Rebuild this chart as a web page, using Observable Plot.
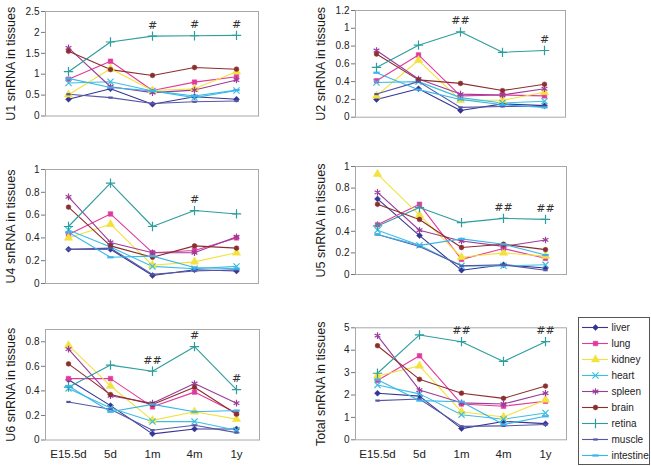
<!DOCTYPE html>
<html><head><meta charset="utf-8">
<script src="https://cdn.jsdelivr.net/npm/d3@7"></script>
<script src="https://cdn.jsdelivr.net/npm/@observablehq/plot@0.6"></script>
<style>
body{margin:0;background:#fff;}
#wrap{position:relative;width:651px;height:466px;overflow:hidden;background:#fff;font-family:"Liberation Sans",Arial,sans-serif;}
.panel{position:absolute;}
#legend{position:absolute;left:578px;top:317px;width:72px;height:148px;border:1px solid #555;box-sizing:border-box;background:#fff;}
</style></head><body><div id="wrap"></div>
<script>
const categories = ["E15.5d", "5d", "1m", "4m", "1y"];
const tissues = ["liver", "lung", "kidney", "heart", "spleen", "brain", "retina", "muscle", "intestine"];

// rows follow the order of `tissues`, columns follow `categories`
const U1 = [
  [0.40, 0.65, 0.28, 0.46, 0.40],
  [0.88, 1.31, 0.61, 0.81, 0.94],
  [0.51, 1.13, 0.61, 0.65, 1.06],
  [0.79, 0.82, 0.60, 0.44, 0.61],
  [1.63, 0.70, 0.56, 0.62, 0.86],
  [1.55, 1.11, 0.97, 1.16, 1.12],
  [1.06, 1.77, 1.91, 1.92, 1.93],
  [0.52, 0.44, 0.30, 0.34, 0.36],
  [0.90, 0.68, 0.60, 0.48, 0.62]
];
const U2 = [
  [0.20, 0.32, 0.075, 0.15, 0.13],
  [0.41, 0.70, 0.24, 0.25, 0.24],
  [0.24, 0.64, 0.19, 0.19, 0.28],
  [0.39, 0.40, 0.22, 0.16, 0.18],
  [0.75, 0.43, 0.26, 0.25, 0.32],
  [0.71, 0.42, 0.38, 0.30, 0.37],
  [0.56, 0.81, 0.96, 0.73, 0.75],
  [0.26, 0.40, 0.11, 0.12, 0.12],
  [0.50, 0.31, 0.20, 0.14, 0.11]
];
const U4 = [
  [0.30, 0.30, 0.07, 0.12, 0.11],
  [0.43, 0.61, 0.27, 0.29, 0.40],
  [0.40, 0.52, 0.16, 0.19, 0.27],
  [0.47, 0.32, 0.15, 0.13, 0.15],
  [0.76, 0.36, 0.27, 0.27, 0.41],
  [0.67, 0.33, 0.23, 0.33, 0.31],
  [0.50, 0.88, 0.50, 0.64, 0.61],
  [0.30, 0.31, 0.08, 0.11, 0.12],
  [0.45, 0.23, 0.24, 0.14, 0.13]
];
const U5 = [
  [0.70, 0.36, 0.04, 0.09, 0.06],
  [0.46, 0.65, 0.14, 0.24, 0.15],
  [0.93, 0.55, 0.16, 0.20, 0.17],
  [0.41, 0.27, 0.08, 0.08, 0.09],
  [0.76, 0.41, 0.31, 0.26, 0.32],
  [0.65, 0.51, 0.25, 0.28, 0.23],
  [0.45, 0.62, 0.48, 0.52, 0.51],
  [0.37, 0.26, 0.08, 0.09, 0.04],
  [0.37, 0.27, 0.33, 0.28, 0.18]
];
const U6 = [
  [0.49, 0.28, 0.05, 0.09, 0.09],
  [0.50, 0.50, 0.27, 0.39, 0.22],
  [0.77, 0.44, 0.16, 0.23, 0.17],
  [0.42, 0.26, 0.15, 0.15, 0.08],
  [0.74, 0.36, 0.30, 0.46, 0.30],
  [0.62, 0.37, 0.29, 0.43, 0.21],
  [0.43, 0.61, 0.56, 0.76, 0.41],
  [0.31, 0.25, 0.08, 0.12, 0.06],
  [0.44, 0.23, 0.29, 0.23, 0.24]
];
const Total = [
  [2.08, 1.95, 0.50, 0.82, 0.72],
  [2.65, 3.75, 1.60, 1.50, 1.72],
  [2.85, 3.30, 1.25, 1.02, 1.78],
  [2.45, 2.05, 1.12, 0.92, 1.20],
  [4.65, 2.22, 1.65, 1.60, 2.08],
  [4.20, 2.70, 2.08, 1.85, 2.40],
  [2.97, 4.68, 4.38, 3.50, 4.38],
  [1.75, 1.82, 0.60, 0.62, 0.68],
  [2.68, 1.75, 1.70, 0.68, 1.05]
];

// significance marks above the retina series
const U1notes = [["1m", "#"], ["4m", "#"], ["1y", "#"]];
const U2notes = [["1m", "##"], ["1y", "#"]];
const U4notes = [["4m", "#"]];
const U5notes = [["4m", "##"], ["1y", "##"]];
const U6notes = [["1m", "##"], ["4m", "#"], ["1y", "#"]];
const TotalNotes = [["1m", "##"], ["1y", "##"]];

const U1ticks = [0, 0.5, 1, 1.5, 2, 2.5];
const U2ticks = [0, 0.2, 0.4, 0.6, 0.8, 1, 1.2];
const U4ticks = [0, 0.2, 0.4, 0.6, 0.8, 1];
const U5ticks = [0, 0.2, 0.4, 0.6, 0.8, 1];
const U6ticks = [0, 0.2, 0.4, 0.6, 0.8];
const TotalTicks = [0, 1, 2, 3, 4, 5];

const dash = (half) => ({draw(ctx) { ctx.moveTo(-half, 0); ctx.lineTo(half, 0); }});
const styles = {
  liver:     {color: "#353595", symbol: "diamond2", r: 2.7, filled: true, sw: 0.5},
  lung:      {color: "#e2399d", symbol: "square", r: 2.6, filled: true, sw: 0.5},
  kidney:    {color: "#f3e23e", symbol: "triangle", r: 3.1, filled: true, sw: 0.5},
  heart:     {color: "#3bbfe2", symbol: "times", r: 2.9, filled: false, sw: 1.2},
  spleen:    {color: "#9a3c9a", symbol: "asterisk", r: 3.1, filled: false, sw: 1.2},
  brain:     {color: "#8c2e2e", symbol: "circle", r: 2.4, filled: true, sw: 0.5},
  retina:    {color: "#2d9d9d", symbol: "plus", r: 3.1, filled: false, sw: 1.2},
  muscle:    {color: "#5656a6", symbol: dash(2.2), r: 3, filled: false, sw: 2.2},
  intestine: {color: "#3ab6ea", symbol: dash(3.2), r: 3, filled: false, sw: 2.2}
};

const panels = [
  {title: "U1 snRNA in tissues", values: U1, notes: U1notes, ticks: U1ticks, yMax: 2.5, left: 0, top: 0, w: 300, h: 150, mL: 45, mR: 42, mT: 11, mB: 34.5, titleX: 10, xlabels: false},
  {title: "U2 snRNA in tissues", values: U2, notes: U2notes, ticks: U2ticks, yMax: 1.2, left: 300, top: 0, w: 351, h: 150, mL: 55, mR: 86, mT: 10, mB: 33.3, titleX: 20, xlabels: false},
  {title: "U4 snRNA in tissues", values: U4, notes: U4notes, ticks: U4ticks, yMax: 1, left: 0, top: 150, w: 300, h: 150, mL: 45, mR: 42, mT: 19, mB: 17, titleX: 10, xlabels: false},
  {title: "U5 snRNA in tissues", values: U5, notes: U5notes, ticks: U5ticks, yMax: 1, left: 300, top: 150, w: 351, h: 150, mL: 55, mR: 85, mT: 16, mB: 26, titleX: 20, xlabels: false},
  {title: "U6 snRNA in tissues", values: U6, notes: U6notes, ticks: U6ticks, yMax: 0.9, left: 0, top: 300, w: 300, h: 166, mL: 45, mR: 41, mT: 29, mB: 26.5, titleX: 10, xlabels: true},
  {title: "Total snRNA in tissues", values: Total, notes: TotalNotes, ticks: TotalTicks, yMax: 5, left: 300, top: 300, w: 351, h: 166, mL: 55, mR: 85, mT: 27.3, mB: 26.7, titleX: 20, xlabels: true}
];

const wrap = document.getElementById("wrap");
const font = "'Liberation Sans', Arial, sans-serif";

for (const p of panels) {
  const rows = [];
  tissues.forEach((t, i) => p.values[i].forEach((v, j) => rows.push({tissue: t, cat: categories[j], v})));
  const retina = new Map(rows.filter(r => r.tissue === "retina").map(r => [r.cat, r.v]));
  const marks = [
    Plot.frame({stroke: "#a8a8a8"}),
    Plot.axisY({ticks: p.ticks, tickSize: 4, tickPadding: 2, fontSize: 10, tickFormat: d => String(d), label: null, stroke: "#777"}),
    Plot.text([p.title], {frameAnchor: "left", dx: -(p.mL - p.titleX), rotate: -90, fontSize: 12.5, textAnchor: "middle", fill: "#1a1a1a"})
  ];
  if (p.xlabels) {
    marks.push(Plot.axisX({tickSize: 0, tickPadding: 10, fontSize: 11.5, label: null}));
  }
  for (const t of tissues) {
    const s = styles[t];
    const d = rows.filter(r => r.tissue === t);
    marks.push(Plot.line(d, {x: "cat", y: "v", stroke: s.color, strokeWidth: 1.1}));
  }
  for (const t of tissues) {
    const s = styles[t];
    const d = rows.filter(r => r.tissue === t);
    marks.push(Plot.dot(d, {x: "cat", y: "v", symbol: s.symbol, r: s.r,
      fill: s.filled ? s.color : "none", stroke: s.color, strokeWidth: s.sw}));
  }
  marks.push(Plot.text(p.notes, {x: d => d[0], y: d => retina.get(d[0]), text: d => d[1], dy: -11, fontSize: 11, fill: "#333", fontFamily: "'DejaVu Sans', sans-serif"}));

  const chart = Plot.plot({
    width: p.w, height: p.h,
    marginLeft: p.mL, marginRight: p.mR, marginTop: p.mT, marginBottom: p.mB,
    style: {fontFamily: font, color: "#222", background: "transparent", overflow: "visible"},
    x: {type: "point", domain: categories, padding: 0.5, axis: null},
    y: {domain: [0, p.yMax], axis: null},
    marks
  });
  chart.classList.add("panel");
  chart.style.left = p.left + "px";
  chart.style.top = p.top + "px";
  chart.style.position = "absolute";
  wrap.appendChild(chart);
}

// legend
const legendDiv = document.createElement("div");
legendDiv.id = "legend";
const legendMarks = [];
for (const t of tissues) {
  const s = styles[t];
  legendMarks.push(Plot.ruleY([t], {y: d => d, stroke: s.color, strokeWidth: 1.1}));
  legendMarks.push(Plot.dot([t], {y: d => d, frameAnchor: "middle", symbol: s.symbol, r: s.r,
    fill: s.filled ? s.color : "none", stroke: s.color, strokeWidth: s.sw}));
}
legendMarks.push(Plot.text(tissues, {y: d => d, text: d => d, frameAnchor: "right", textAnchor: "start", dx: 3, fontSize: 10, fill: "#222"}));
const legend = Plot.plot({
  width: 70, height: 146,
  marginLeft: 3, marginRight: 41, marginTop: 9, marginBottom: 9,
  style: {fontFamily: font, background: "transparent", overflow: "visible"},
  y: {type: "point", domain: tissues, padding: 0, axis: null},
  marks: legendMarks
});
legendDiv.appendChild(legend);
wrap.appendChild(legendDiv);
</script></body></html>
